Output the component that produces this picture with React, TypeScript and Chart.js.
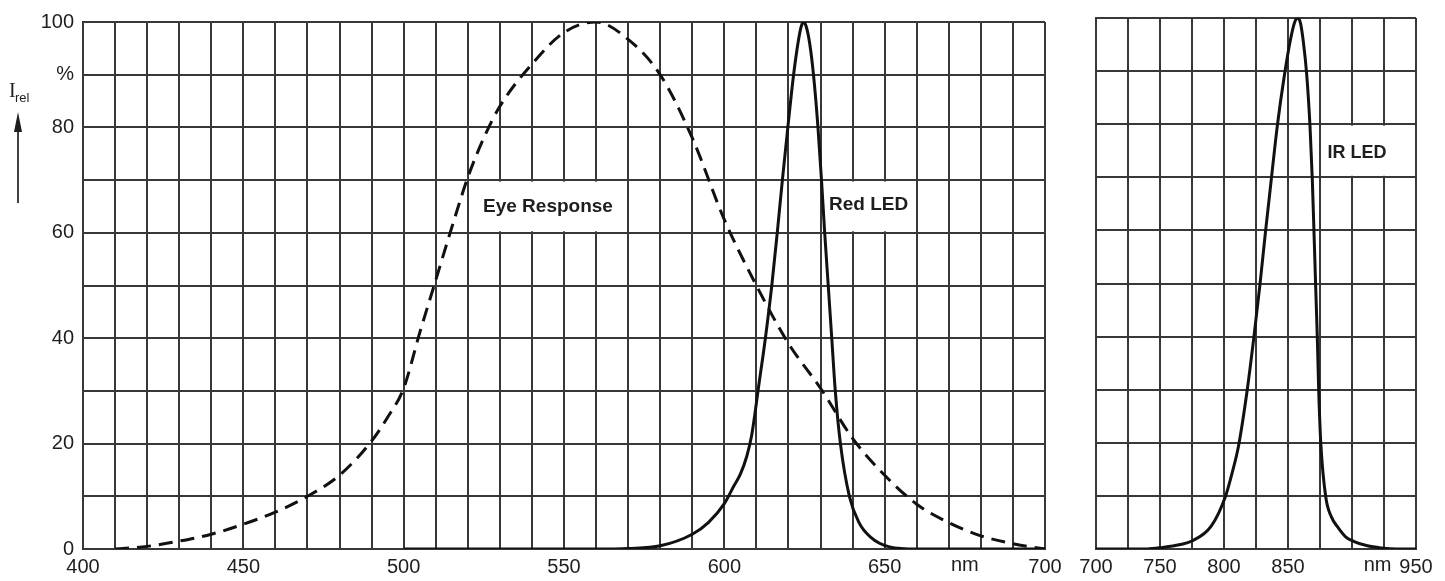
import React, { useEffect, useRef } from 'react';
import { Chart, registerables } from 'chart.js';

Chart.register(...registerables);

// ---------- data ----------
const eyeWavelength = [410, 420, 430, 440, 450, 460, 470, 480, 490, 495, 500, 505, 510, 515, 520, 525, 530, 540, 550, 560, 570, 580, 590, 600, 610, 620, 630, 640, 650, 660, 670, 680, 690, 700];
const eyeResponse = [0, 0.5, 1.5, 2.8, 4.7, 7, 10, 14, 20.5, 25, 30.5, 41, 51, 61, 70.5, 78, 84, 92, 98, 100, 96.7, 90, 78, 62.5, 50, 39, 30.5, 21, 14, 8.5, 5, 2.5, 1, 0];

const redWavelength = [500, 560, 570, 580, 590, 595, 600, 603, 605, 607, 608.5, 609.5, 610.5, 612.8, 614.8, 616.5, 618.1, 619.8, 621.6, 623.1, 624.0, 624.8, 625.6, 626.6, 627.8, 629.2, 630.3, 631.3, 632.4, 633.5, 634.6, 636.2, 639, 642, 645.5, 651.5, 660, 700];
const redIntensity = [0, 0, 0.1, 0.6, 2.8, 5, 8.6, 12, 14.2, 17.6, 21.5, 25.5, 30, 40, 50, 60, 70, 80, 90, 96.5, 99.2, 100, 99, 96, 90, 80, 70, 60, 50, 40, 30, 20, 10, 5, 2.3, 0.4, 0, 0];

const irWavelength = [700, 740, 752, 765, 775, 790, 801, 806, 811.5, 818, 823.3, 828, 832.4, 836.9, 841.6, 847.3, 852, 855.2, 857.6, 859.8, 862, 864.6, 867.2, 869, 870.3, 871.6, 872.9, 874, 875.7, 879.5, 884, 888.6, 895, 901.7, 912, 922.6, 935, 950];
const irIntensity = [0, 0, 0.3, 0.8, 1.5, 4.3, 9.8, 14, 19.6, 29.7, 39.8, 49.6, 59.7, 69.5, 79.6, 89.4, 96, 99.2, 100, 99, 95.5, 89.4, 79.6, 69.5, 59.7, 49.6, 39.8, 29.7, 19.6, 9.8, 6, 4.2, 2.3, 1.4, 0.6, 0.2, 0, 0];

// tick labels
const leftXLabels = [400, 450, 500, 550, 600, 650, 700];
const rightXLabels = [700, 750, 800, 850, 950];
const yLabels = [0, 20, 40, 60, 80, 100];
const yUnitValue = 90;
const yUnitText = '%';
const xUnitText = 'nm';
const leftUnitValue = 675;
const rightUnitValue = 920;

// ---------- styling ----------
const W = 1445;
const H = 581;
const GRID = '#383838';
const TEXT = '#1e1e1e';
const TICK_FONT = { family: "'Liberation Sans', Arial, sans-serif", size: 20 };
const NOTE_FONT = "bold 19px 'Liberation Sans', Arial, sans-serif";

type Note = { text: string; x: number; y: number; box: [number, number, number, number]; font?: string };

function toPoints(xs: number[], ys: number[]) {
  return xs.map((x, i) => ({ x, y: ys[i] }));
}

function makePlugin(notes: Note[], unitValue: number, extra?: (chart: any) => void) {
  return {
    id: 'notes',
    beforeDatasetsDraw(chart: any) {
      const xs = chart.scales.x;
      const ys = chart.scales.y;
      const ctx = chart.ctx;
      ctx.save();
      ctx.fillStyle = '#ffffff';
      for (const n of notes) {
        const [x0, x1, y0, y1] = n.box;
        const px0 = xs.getPixelForValue(x0) + 1.5;
        const px1 = xs.getPixelForValue(x1) - 1.5;
        const py0 = ys.getPixelForValue(y1) + 1.5;
        const py1 = ys.getPixelForValue(y0) - 1.5;
        ctx.fillRect(px0, py0, px1 - px0, py1 - py0);
      }
      ctx.restore();
    },
    afterDatasetsDraw(chart: any) {
      const xs = chart.scales.x;
      const ys = chart.scales.y;
      const ctx = chart.ctx;
      ctx.save();
      ctx.fillStyle = TEXT;
      ctx.textAlign = 'center';
      ctx.textBaseline = 'middle';
      for (const n of notes) {
        ctx.font = n.font || NOTE_FONT;
        ctx.fillText(n.text, xs.getPixelForValue(n.x), ys.getPixelForValue(n.y));
      }
      ctx.restore();
    },
    afterDraw(chart: any) {
      const xs = chart.scales.x;
      const ctx = chart.ctx;
      ctx.save();
      ctx.fillStyle = TEXT;
      ctx.font = `${TICK_FONT.size}px ${TICK_FONT.family}`;
      ctx.textAlign = 'center';
      ctx.textBaseline = 'top';
      ctx.fillText(xUnitText, xs.getPixelForValue(unitValue), xs.top + 6);
      ctx.restore();
      if (extra) extra(chart);
    },
  };
}

function drawIrel(chart: any) {
  const ctx = chart.ctx;
  ctx.save();
  ctx.fillStyle = TEXT;
  ctx.textBaseline = 'alphabetic';
  ctx.textAlign = 'left';
  ctx.font = "20px 'Liberation Serif', serif";
  ctx.fillText('I', 9, 97);
  ctx.font = "13px 'Liberation Sans', Arial, sans-serif";
  ctx.fillText('rel', 15, 102);
  ctx.strokeStyle = '#111';
  ctx.lineWidth = 1.6;
  ctx.beginPath();
  ctx.moveTo(18, 203);
  ctx.lineTo(18, 128);
  ctx.stroke();
  ctx.beginPath();
  ctx.moveTo(18, 112);
  ctx.lineTo(14, 132);
  ctx.lineTo(22, 132);
  ctx.closePath();
  ctx.fill();
  ctx.restore();
}

function baseOptions(opts: {
  min: number; max: number; step: number; labels: number[]; yWidth: number; padRight: number; padTop: number; showY: boolean;
}) {
  return {
    animation: false,
    responsive: false,
    maintainAspectRatio: false,
    layout: { padding: { left: 0, right: opts.padRight, top: opts.padTop, bottom: 0 } },
    plugins: { legend: { display: false }, tooltip: { enabled: false } },
    elements: { point: { radius: 0 } },
    scales: {
      x: {
        type: 'linear',
        min: opts.min,
        max: opts.max,
        ticks: {
          stepSize: opts.step,
          autoSkip: false,
          maxRotation: 0,
          minRotation: 0,
          padding: 6,
          color: TEXT,
          font: TICK_FONT,
          callback: (v: any) => (opts.labels.includes(Number(v)) ? String(v) : ''),
        },
        grid: { color: GRID, lineWidth: 2, drawTicks: false },
        border: { color: GRID, width: 2 },
        afterFit: (s: any) => { s.height = H - 549; },
      },
      y: {
        type: 'linear',
        min: 0,
        max: 100,
        ticks: {
          display: opts.showY,
          stepSize: 10,
          padding: 9,
          color: TEXT,
          font: TICK_FONT,
          callback: (v: any) => {
            const n = Number(v);
            if (n === yUnitValue) return yUnitText;
            return yLabels.includes(n) ? String(n) : '';
          },
        },
        grid: { color: GRID, lineWidth: 2, drawTicks: false },
        border: { color: GRID, width: 2 },
        afterFit: (s: any) => { s.width = opts.yWidth; },
      },
    },
  };
}

const LEFT_CANVAS_W = 1075;
const RIGHT_CANVAS_X = 1058;
const RIGHT_CANVAS_W = W - RIGHT_CANVAS_X;

export default function App() {
  const leftRef = useRef<HTMLCanvasElement | null>(null);
  const rightRef = useRef<HTMLCanvasElement | null>(null);

  useEffect(() => {
    const leftNotes: Note[] = [
      { text: 'Eye Response', x: 545, y: 65, box: [520, 570, 60, 70] },
      { text: 'Red LED', x: 645, y: 65.3, box: [630, 660, 60, 70] },
    ];
    const rightNotes: Note[] = [
      { text: 'IR LED', x: 904, y: 74.5, box: [877, 950, 70, 80], font: "bold 18px 'Liberation Sans', Arial, sans-serif" },
    ];

    const left = new Chart(leftRef.current as HTMLCanvasElement, {
      type: 'line',
      data: {
        datasets: [
          {
            label: 'Eye Response',
            data: toPoints(eyeWavelength, eyeResponse),
            borderColor: '#111',
            borderWidth: 3,
            borderDash: [14, 8],
            cubicInterpolationMode: 'monotone',
            fill: false,
          },
          {
            label: 'Red LED',
            data: toPoints(redWavelength, redIntensity),
            borderColor: '#111',
            borderWidth: 3,
            cubicInterpolationMode: 'monotone',
            fill: false,
          },
        ],
      },
      options: baseOptions({ min: 400, max: 700, step: 10, labels: leftXLabels, yWidth: 83, padRight: LEFT_CANVAS_W - 1045, padTop: 22, showY: true }) as any,
      plugins: [makePlugin(leftNotes, leftUnitValue, drawIrel)],
    } as any);

    const right = new Chart(rightRef.current as HTMLCanvasElement, {
      type: 'line',
      data: {
        datasets: [
          {
            label: 'IR LED',
            data: toPoints(irWavelength, irIntensity),
            borderColor: '#111',
            borderWidth: 3,
            cubicInterpolationMode: 'monotone',
            fill: false,
          },
        ],
      },
      options: baseOptions({ min: 700, max: 950, step: 25, labels: rightXLabels, yWidth: 1096 - RIGHT_CANVAS_X, padRight: W - 1416, padTop: 18, showY: false }) as any,
      plugins: [makePlugin(rightNotes, rightUnitValue)],
    } as any);

    return () => {
      left.destroy();
      right.destroy();
    };
  }, []);

  return (
    <div style={{ position: 'fixed', left: 0, top: 0, width: W, height: H, background: '#fff', overflow: 'hidden' }}>
      <canvas ref={leftRef} width={LEFT_CANVAS_W} height={H} style={{ position: 'absolute', left: 0, top: 0 }} />
      <canvas ref={rightRef} width={RIGHT_CANVAS_W} height={H} style={{ position: 'absolute', left: RIGHT_CANVAS_X, top: 0 }} />
    </div>
  );
}
